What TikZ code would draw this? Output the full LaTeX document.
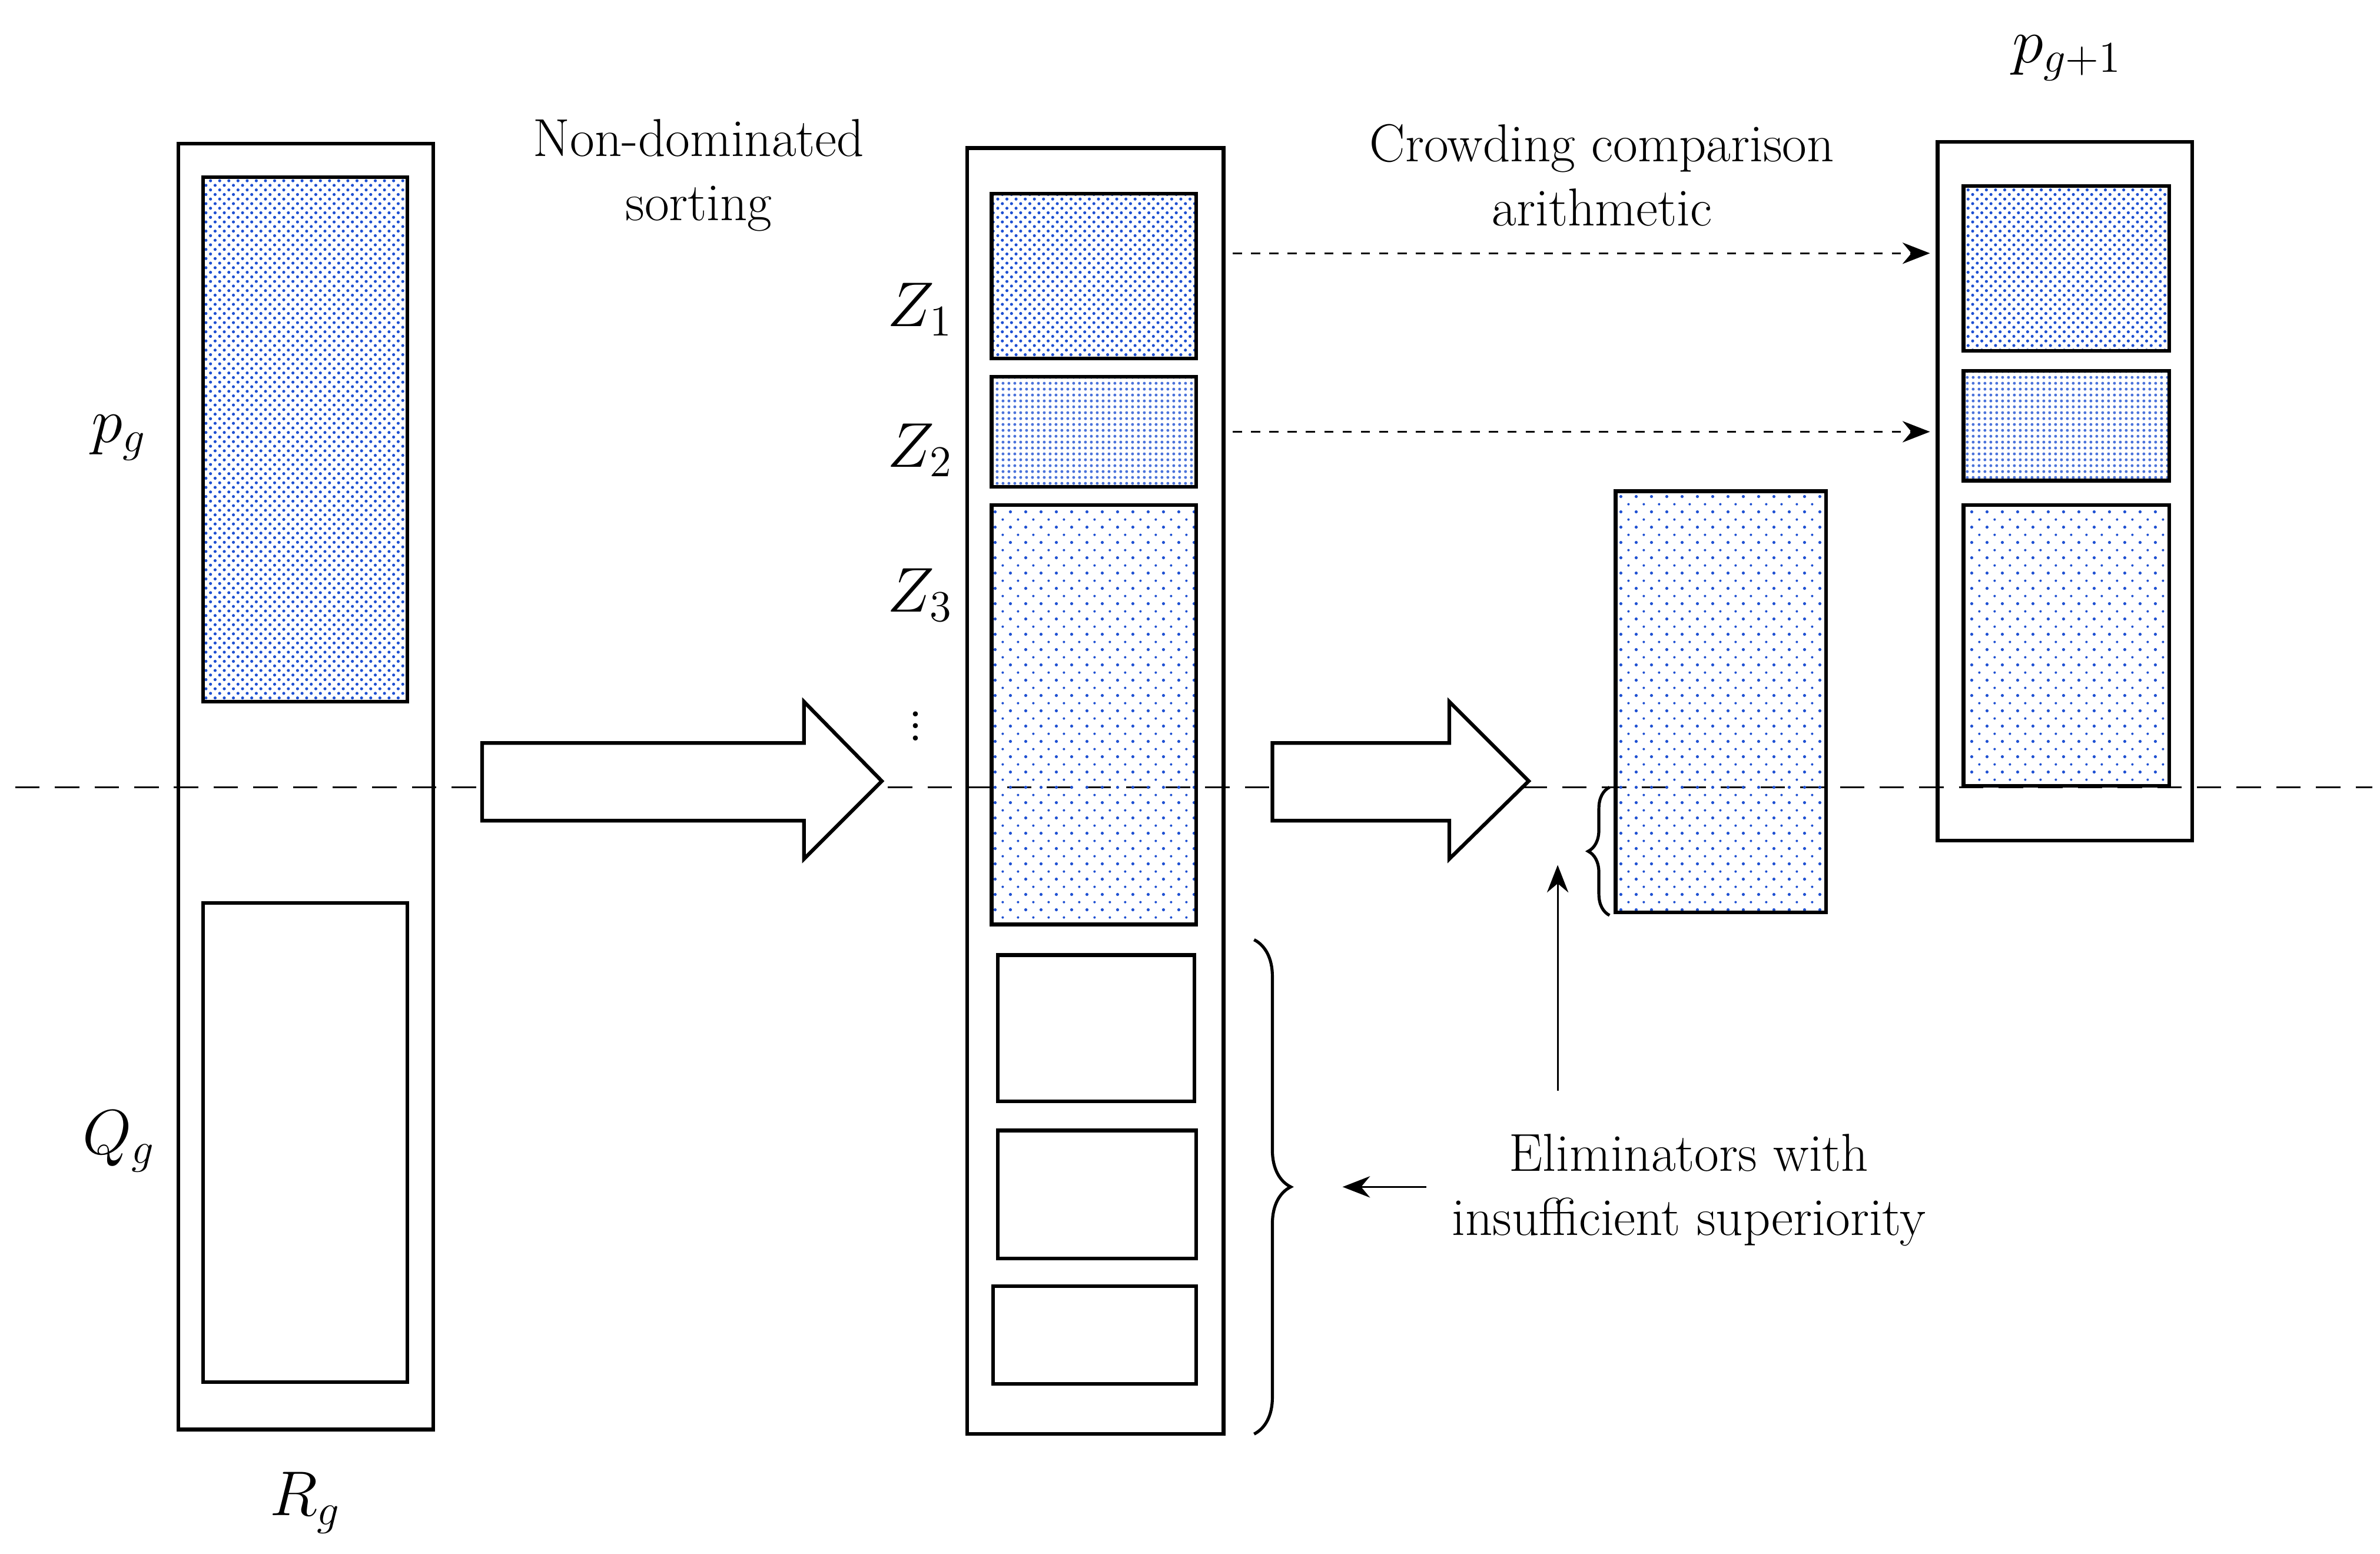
\documentclass[tikz,border=0pt]{standalone}
\usepackage{amsmath}
\usetikzlibrary{patterns,patterns.meta,decorations.pathreplacing,arrows.meta}

\definecolor{dotblue}{RGB}{30,80,210}

\tikzdeclarepattern{name=sparse dots, type=uncolored,
  bounding box={(0,0) and (5pt,5pt)}, tile size={(5pt,5pt)},
  code={\fill (1.25pt,1.25pt) circle (0.5pt); \fill (3.75pt,3.75pt) circle (0.4pt);}}
\tikzdeclarepattern{name=column dots, type=uncolored,
  bounding box={(0,0) and (2pt,2pt)}, tile size={(2pt,2pt)},
  code={\fill (1pt,1pt) circle (0.5pt);}}

\tikzset{
  frame/.style={draw,line width=1.2pt},
  front/.style={frame,pattern=crosshatch dots,pattern color=dotblue},
  second/.style={frame,pattern=column dots,pattern color=dotblue!80},
  third/.style={frame,pattern=sparse dots,pattern color=dotblue},
  bigarrow/.style={draw,line width=1.2pt,fill=white},
  lbl/.style={font=\fontsize{17.5}{21}\selectfont,align=center},
  mlbl/.style={font=\fontsize{20}{23}\selectfont},
}

\begin{document}
\begin{tikzpicture}[x=0.5pt,y=-0.5pt]
  \useasboundingbox (0,0) rectangle (1560,1018.5);

  % cut line
  \draw[dashed,line width=0.6pt,dash pattern=on 8pt off 5pt] (10,516) -- (1555,516);

  % R_g
  \draw[frame] (117,94) rectangle (284,937);
  \draw[front] (133,116) rectangle (267,460);
  \draw[frame] (133,592) rectangle (267,906);
  \node[mlbl] (pg) at (78,287) {$p_g$};
  \node[mlbl] (qg) at (78,748) {$Q_g$};
  \node[mlbl] (rg) at (200,985) {$R_g$};

  % first big arrow
  \draw[bigarrow] (316,487) -- (527,487) -- (527,460) -- (578,512) -- (527,563) -- (527,538) -- (316,538) -- cycle;
  \node[lbl] (nds) at (458,115) {Non-dominated\\sorting};

  % sorted fronts
  \draw[frame] (634,97) rectangle (802,940);
  \draw[front] (650,127) rectangle (784,235);
  \draw[second] (650,247) rectangle (784,319);
  \draw[third] (650,331) rectangle (784,606);
  \draw[frame] (654,626) rectangle (783,722);
  \draw[frame] (654,741) rectangle (784,825);
  \draw[frame] (651,843) rectangle (784,907);
  \node[mlbl] (z1) at (603,203) {$Z_1$};
  \node[mlbl] (z2) at (603,295) {$Z_2$};
  \node[mlbl] (z3) at (603,390) {$Z_3$};
  \node[mlbl,inner sep=0pt] (zdots) at (600,470) {$\vdots$};

  % second big arrow
  \draw[bigarrow] (834,487) -- (950,487) -- (950,460) -- (1002,512) -- (950,563) -- (950,538) -- (834,538) -- cycle;
  \node[lbl] (cca) at (1050,115) {Crowding comparison\\arithmetic};

  % split front
  \draw[third] (1059,322) rectangle (1197,598);
  \draw[decorate,decoration={brace,amplitude=7pt},line width=1pt] (1055,600) -- (1055,516);
  \coordinate (cut) at (1021,567);
  \coordinate (cutfoot) at (1021,715);
  \draw[-{Stealth[length=9pt,width=7pt]},line width=0.6pt] (cutfoot) -- (cut);

  % P_{g+1}
  \draw[frame] (1270,93) rectangle (1437,551);
  \draw[front] (1287,122) rectangle (1422,230);
  \draw[second] (1287,243) rectangle (1422,315);
  \draw[third] (1287,331) rectangle (1422,515);
  \node[mlbl] (pnext) at (1355,38) {$p_{g+1}$};

  % copied fronts
  \coordinate (a1) at (808,166);
  \coordinate (b1) at (1265,166);
  \coordinate (a2) at (808,283);
  \coordinate (b2) at (1265,283);
  \draw[dashed,line width=0.5pt,-{Stealth[length=9pt,width=7pt]}] (a1) -- (b1);
  \draw[dashed,line width=0.5pt,-{Stealth[length=9pt,width=7pt]}] (a2) -- (b2);

  % eliminated
  \draw[decorate,decoration={brace,amplitude=12pt},line width=1pt] (822,616) -- (822,940);
  \node[lbl] (elim) at (1107,780) {Eliminators with\\insufficient superiority};
  \coordinate (btip) at (880,778);
  \coordinate (bfoot) at (935,778);
  \draw[-{Stealth[length=9pt,width=7pt]},line width=0.6pt] (bfoot) -- (btip);
\end{tikzpicture}
\end{document}
